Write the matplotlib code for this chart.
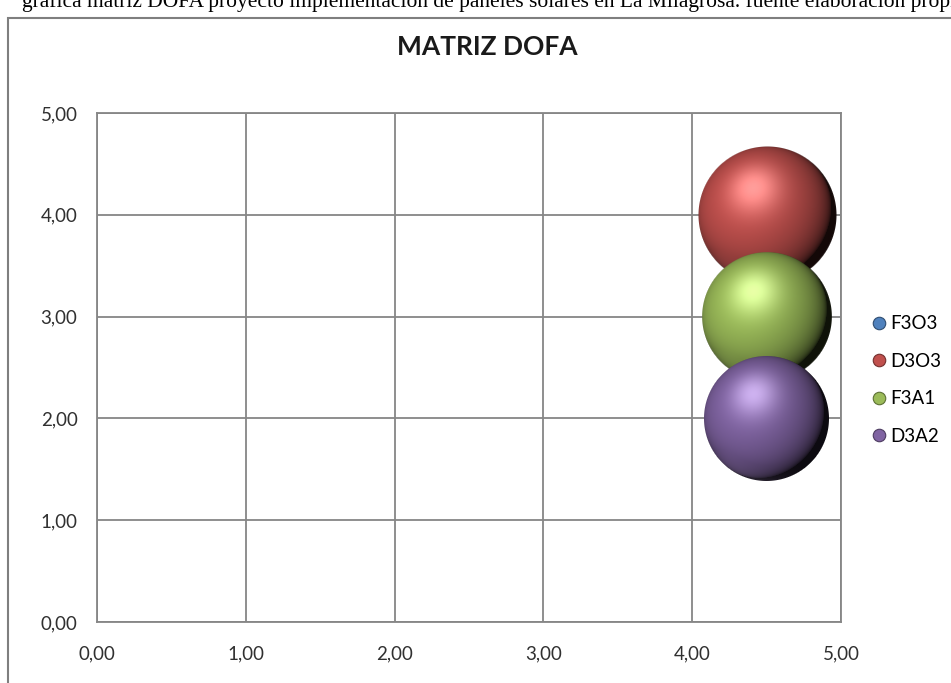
import numpy as np
import matplotlib
matplotlib.use("Agg")
import matplotlib.pyplot as plt
import matplotlib.colors as mcolors
from matplotlib.lines import Line2D
from matplotlib.patches import Rectangle

# data
labels = ["F3O3", "D3O3", "F3A1", "D3A2"]
x_vals = [4.5, 4.5, 4.5, 4.5]
y_vals = [3.0, 4.0, 3.0, 2.0]
sizes = [4.0, 6.0, 5.3, 5.0]
colors = ["#4F81BD", "#C0504D", "#9BBB59", "#8064A2"]
ticks = [0, 1, 2, 3, 4, 5]

plt.rcParams['font.family'] = ['Lato', 'DejaVu Sans']

W, H = 951, 683
fig = plt.figure(figsize=(W / 100, H / 100), dpi=100)
ax_w, ax_h = 744, 509
ax = fig.add_axes([97 / W, 61 / H, ax_w / W, ax_h / H])

grid_c = "#868686"
fmt = lambda v: f"{v:.2f}".replace(".", ",")


def sphere(x, y, r_px, color, z):
    # shaded ball image, placed by data coordinates
    base = np.array(mcolors.to_rgb(color))
    n = int(2 * r_px) + 2
    u = np.linspace(-1, 1, n) * (n / 2) / r_px
    U, V = np.meshgrid(u, -u)
    rr = np.sqrt(U ** 2 + V ** 2)
    nz = np.sqrt(np.clip(1 - rr ** 2, 0, 1))
    L = np.array([-0.38, 0.3, 0.88])
    L = L / np.linalg.norm(L)
    diff = np.clip(U * L[0] + V * L[1] + nz * L[2], 0, 1)
    Lh = np.array([-0.2, 0.4, 0.9])
    Lh = Lh / np.linalg.norm(Lh)
    spec = np.clip(U * Lh[0] + V * Lh[1] + nz * Lh[2], 0, 1) ** 14
    rim = np.clip((rr - 0.75) / 0.25, 0, 1) * np.clip(-V - 0.5, 0, 1) * np.clip(0.6 - U, 0, 1)
    shade = 0.1 + 0.92 * diff ** 0.55
    img = np.zeros((n, n, 4))
    for ch in range(3):
        c = base[ch] * shade + 0.3 * spec + rim * 0.3 * (base[ch] + 0.4)
        img[..., ch] = np.clip(c, 0, 1)
    img[..., 3] = np.clip((1 - rr) * r_px + 0.5, 0, 1)
    rx = (n / 2) / (ax_w / 5)
    ry = (n / 2) / (ax_h / 5)
    ax.imshow(img, extent=[x - rx, x + rx, y - ry, y + ry], aspect="auto",
              interpolation="bilinear", zorder=z)


r_max = 69
for i in range(len(labels)):
    r = r_max * np.sqrt(sizes[i] / max(sizes))
    sphere(x_vals[i], y_vals[i], r, colors[i], 3 + i)

ax.set_xlim(0, 5)
ax.set_ylim(0, 5)
ax.set_aspect("auto")
ax.set_xticks(ticks)
ax.set_yticks(ticks)
ax.set_xticklabels([fmt(t) for t in ticks], fontsize=13.5, color="#303030")
ax.set_yticklabels([fmt(t) for t in ticks], fontsize=13.5, color="#303030")
ax.tick_params(length=0)
ax.tick_params(axis="x", pad=17)
ax.tick_params(axis="y", pad=14)
ax.grid(True, color=grid_c, linewidth=1.3)
for s in ax.spines.values():
    s.set_color(grid_c)
    s.set_linewidth(1.3)
ax.set_axisbelow(True)

# title
fig.text(487 / W, 1 - 47 / H, "MATRIZ DOFA", fontsize=19, fontweight="bold",
         ha="center", va="center", color="#1a1a1a")

# legend
handles = [Line2D([], [], marker="o", linestyle="none", markersize=9,
                  markerfacecolor=c, markeredgecolor=np.array(mcolors.to_rgb(c)) * 0.6,
                  markeredgewidth=0.8) for c in colors]
fig.legend(handles, labels, loc="center left", bbox_to_anchor=(858 / W, 1 - 380 / H),
           frameon=False, fontsize=13.5, handletextpad=0.0, labelspacing=1.1,
           handlelength=1.2, borderpad=0)

# outer chart frame and caption
fig.patches.append(Rectangle((8 / W, -0.1), 1.2, 1.1 - 18 / H, transform=fig.transFigure,
                             fill=False, edgecolor="#7f7f7f", linewidth=1.5))
fig.text(22 / W, 1 - 7 / H,
         "gráfica matriz DOFA proyecto implementación de paneles solares en La Milagrosa. fuente elaboración propia",
         fontsize=15.5, family=["Liberation Serif"], ha="left", va="baseline", color="black")

fig.savefig("out.png", dpi=100)
